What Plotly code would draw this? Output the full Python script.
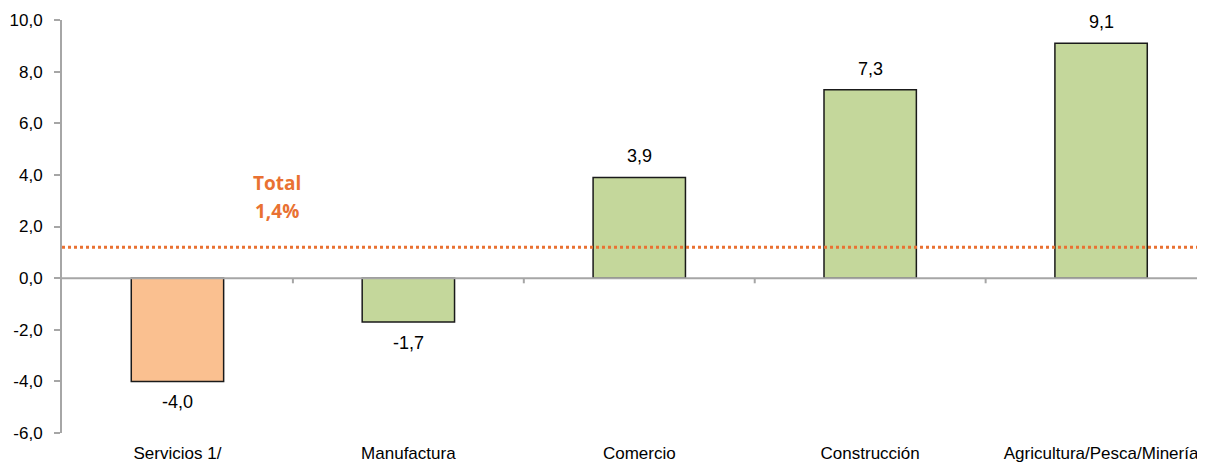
import plotly.graph_objects as go

categories = ["Servicios 1/", "Manufactura", "Comercio", "Construcción", "Agricultura/Pesca/Minería"]
values = [-4.0, -1.7, 3.9, 7.3, 9.1]
bar_colors = ["#FAC090", "#C4D79B", "#C4D79B", "#C4D79B", "#C4D79B"]
total_label_value = 1.4
total_line_level = 1.2
y_ticks = [-6, -4, -2, 0, 2, 4, 6, 8, 10]


def fmt(v):
    return f"{v:.1f}".replace(".", ",")


FONT = "Liberation Sans Narrow, Arial Narrow, Liberation Sans, Arial, sans-serif"
n = len(categories)
x_end = n - 0.55

fig = go.Figure()
fig.add_trace(go.Bar(
    x=list(range(n)), y=values,
    marker=dict(color=bar_colors, line=dict(color="#1a1a1a", width=1.5)),
    width=0.4,
    hoverinfo="skip",
))

# total dotted line
fig.add_trace(go.Scatter(
    x=[-0.5, x_end], y=[total_line_level, total_line_level],
    mode="lines", line=dict(color="#E97132", width=3, dash="dot"),
    hoverinfo="skip", showlegend=False,
))

# zero line
fig.add_trace(go.Scatter(
    x=[-0.5, x_end], y=[0, 0],
    mode="lines", line=dict(color="#A6A6A6", width=2),
    hoverinfo="skip", showlegend=False,
))

# category boundary ticks on zero line
for i in range(n):
    b = i + 0.5
    fig.add_shape(type="line", xref="x", yref="y", x0=b, x1=b, y0=0, y1=-0.2,
                  line=dict(color="#A6A6A6", width=2))

# data labels
for i, v in enumerate(values):
    fig.add_annotation(
        x=i, y=v, xref="x", yref="y", text=fmt(v), showarrow=False,
        yshift=21 if v >= 0 else -21,
        font=dict(family=FONT, size=18, color="#000000"),
    )

fig.add_annotation(
    x=0.43, y=3.68, xref="x", yref="y", text="<b>Total</b>",
    showarrow=False, font=dict(family="Open Sans, Lato, sans-serif", size=19, color="#E97132"),
)
fig.add_annotation(
    x=0.43, y=2.6, xref="x", yref="y", text="<b>" + fmt(total_label_value) + "%</b>",
    showarrow=False, font=dict(family="Open Sans, Lato, sans-serif", size=19, color="#E97132"),
)

fig.update_layout(
    width=1197, height=458,
    margin=dict(l=54, r=0, t=12, b=33),
    paper_bgcolor="white", plot_bgcolor="white",
    showlegend=False,
    xaxis=dict(
        range=[-0.5, x_end], automargin=False,
        tickmode="array", tickvals=list(range(n)), ticktext=categories,
        showline=False, showgrid=False, zeroline=False, ticks="",
        ticklabeloverflow="allow", ticklabelstandoff=8,
        tickfont=dict(family=FONT, size=17, color="#000000"),
    ),
    yaxis=dict(
        range=[-6, 10], automargin=False,
        tickmode="array", tickvals=y_ticks, ticktext=[fmt(t) for t in y_ticks],
        showline=True, linecolor="#A6A6A6", linewidth=2,
        ticks="outside", ticklen=6, tickcolor="#A6A6A6", tickwidth=2,
        ticklabelstandoff=8,
        showgrid=False, zeroline=False,
        tickfont=dict(family=FONT, size=17, color="#000000"),
    ),
)

fig.write_html("out.html")
